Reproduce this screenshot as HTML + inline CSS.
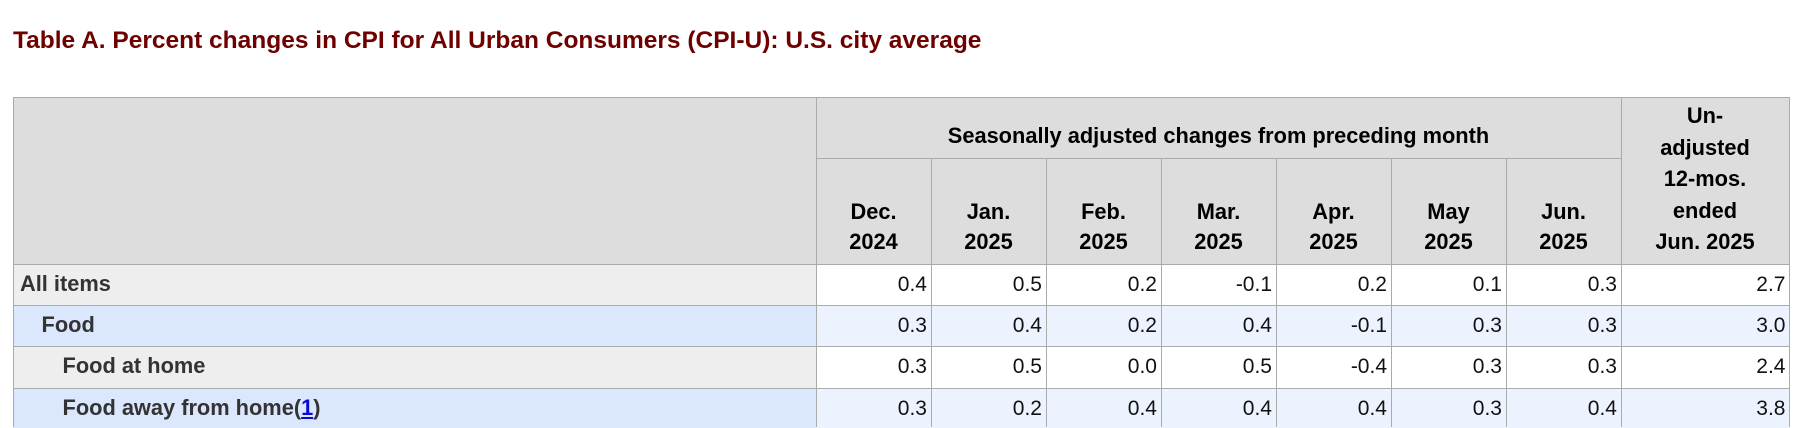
<!DOCTYPE html>
<html><head><meta charset="utf-8">
<style>
html,body{margin:0;padding:0;background:#fff;}
body{width:1804px;height:427px;overflow:hidden;position:relative;font-family:"Liberation Sans",Arial,sans-serif;}
.a{position:absolute;white-space:nowrap;line-height:1;}
.bg{position:absolute;}
.h{position:absolute;background:#ababab;height:1px;}
.v{position:absolute;background:#ababab;width:1px;}
.b{font-weight:bold;font-size:21.8px;color:#000;}
.lab{font-weight:bold;font-size:21.8px;color:#333;}
.d{font-size:21px;color:#111;text-align:right;}
.c{text-align:center;}
</style></head><body>
<div class="a" style="left:13px;top:29.3px;font-size:24.5px;font-weight:bold;color:#6e0000;">Table A. Percent changes in CPI for All Urban Consumers (CPI-U): U.S. city average</div>

<!-- backgrounds -->
<div class="bg" style="left:13px;top:97px;width:1777px;height:167px;background:#dddddd;"></div>
<div class="bg" style="left:13px;top:264px;width:803px;height:41px;background:#eeeeee;"></div>
<div class="bg" style="left:816px;top:264px;width:974px;height:41px;background:#ffffff;"></div>
<div class="bg" style="left:13px;top:305px;width:803px;height:41px;background:#dae7fc;"></div>
<div class="bg" style="left:816px;top:305px;width:974px;height:41px;background:#edf3fe;"></div>
<div class="bg" style="left:13px;top:346px;width:803px;height:42px;background:#eeeeee;"></div>
<div class="bg" style="left:816px;top:346px;width:974px;height:42px;background:#ffffff;"></div>
<div class="bg" style="left:13px;top:388px;width:803px;height:40px;background:#dae7fc;"></div>
<div class="bg" style="left:816px;top:388px;width:974px;height:40px;background:#edf3fe;"></div>

<!-- horizontal lines -->
<div class="h" style="left:13px;top:97px;width:1777px;"></div>
<div class="h" style="left:816px;top:158px;width:805px;"></div>
<div class="h" style="left:13px;top:264px;width:1777px;"></div>
<div class="h" style="left:13px;top:305px;width:1777px;"></div>
<div class="h" style="left:13px;top:346px;width:1777px;"></div>
<div class="h" style="left:13px;top:388px;width:1777px;"></div>
<!-- vertical lines -->
<div class="v" style="left:13px;top:97px;height:330px;"></div>
<div class="v" style="left:816px;top:97px;height:330px;"></div>
<div class="v" style="left:931px;top:158px;height:269px;"></div>
<div class="v" style="left:1046px;top:158px;height:269px;"></div>
<div class="v" style="left:1161px;top:158px;height:269px;"></div>
<div class="v" style="left:1276px;top:158px;height:269px;"></div>
<div class="v" style="left:1391px;top:158px;height:269px;"></div>
<div class="v" style="left:1506px;top:158px;height:269px;"></div>
<div class="v" style="left:1621px;top:97px;height:330px;"></div>
<div class="v" style="left:1789px;top:97px;height:330px;"></div>

<!-- header text -->
<div class="a b c" style="left:816px;width:805px;top:124.9px;">Seasonally adjusted changes from preceding month</div>

<div class="a b c" style="left:816px;width:115px;top:200.5px;">Dec.</div>
<div class="a b c" style="left:816px;width:115px;top:230.9px;">2024</div>
<div class="a b c" style="left:931px;width:115px;top:200.5px;">Jan.</div>
<div class="a b c" style="left:931px;width:115px;top:230.9px;">2025</div>
<div class="a b c" style="left:1046px;width:115px;top:200.5px;">Feb.</div>
<div class="a b c" style="left:1046px;width:115px;top:230.9px;">2025</div>
<div class="a b c" style="left:1161px;width:115px;top:200.5px;">Mar.</div>
<div class="a b c" style="left:1161px;width:115px;top:230.9px;">2025</div>
<div class="a b c" style="left:1276px;width:115px;top:200.5px;">Apr.</div>
<div class="a b c" style="left:1276px;width:115px;top:230.9px;">2025</div>
<div class="a b c" style="left:1391px;width:115px;top:200.5px;">May</div>
<div class="a b c" style="left:1391px;width:115px;top:230.9px;">2025</div>
<div class="a b c" style="left:1506px;width:115px;top:200.5px;">Jun.</div>
<div class="a b c" style="left:1506px;width:115px;top:230.9px;">2025</div>

<div class="a b c" style="left:1621px;width:168px;top:104.9px;">Un-</div>
<div class="a b c" style="left:1621px;width:168px;top:136.5px;">adjusted</div>
<div class="a b c" style="left:1621px;width:168px;top:168.2px;">12-mos.</div>
<div class="a b c" style="left:1621px;width:168px;top:199.9px;">ended</div>
<div class="a b c" style="left:1621px;width:168px;top:230.9px;">Jun. 2025</div>

<!-- row labels -->
<div class="a lab" style="left:20px;top:273.2px;">All items</div>
<div class="a lab" style="left:41.5px;top:314.1px;">Food</div>
<div class="a lab" style="left:62.5px;top:355.1px;">Food at home</div>
<div class="a lab" style="left:62.5px;top:396.9px;">Food away from home(<span style="color:#0b0bd0;text-decoration:underline;">1</span>)</div>

<!-- row 1 -->
<div class="a d" style="right:877px;top:274px;">0.4</div>
<div class="a d" style="right:762px;top:274px;">0.5</div>
<div class="a d" style="right:647px;top:274px;">0.2</div>
<div class="a d" style="right:532px;top:274px;">-0.1</div>
<div class="a d" style="right:417px;top:274px;">0.2</div>
<div class="a d" style="right:302px;top:274px;">0.1</div>
<div class="a d" style="right:187px;top:274px;">0.3</div>
<div class="a d" style="right:18.5px;top:274px;">2.7</div>
<!-- row 2 -->
<div class="a d" style="right:877px;top:314.7px;">0.3</div>
<div class="a d" style="right:762px;top:314.7px;">0.4</div>
<div class="a d" style="right:647px;top:314.7px;">0.2</div>
<div class="a d" style="right:532px;top:314.7px;">0.4</div>
<div class="a d" style="right:417px;top:314.7px;">-0.1</div>
<div class="a d" style="right:302px;top:314.7px;">0.3</div>
<div class="a d" style="right:187px;top:314.7px;">0.3</div>
<div class="a d" style="right:18.5px;top:314.7px;">3.0</div>
<!-- row 3 -->
<div class="a d" style="right:877px;top:355.7px;">0.3</div>
<div class="a d" style="right:762px;top:355.7px;">0.5</div>
<div class="a d" style="right:647px;top:355.7px;">0.0</div>
<div class="a d" style="right:532px;top:355.7px;">0.5</div>
<div class="a d" style="right:417px;top:355.7px;">-0.4</div>
<div class="a d" style="right:302px;top:355.7px;">0.3</div>
<div class="a d" style="right:187px;top:355.7px;">0.3</div>
<div class="a d" style="right:18.5px;top:355.7px;">2.4</div>
<!-- row 4 -->
<div class="a d" style="right:877px;top:397.5px;">0.3</div>
<div class="a d" style="right:762px;top:397.5px;">0.2</div>
<div class="a d" style="right:647px;top:397.5px;">0.4</div>
<div class="a d" style="right:532px;top:397.5px;">0.4</div>
<div class="a d" style="right:417px;top:397.5px;">0.4</div>
<div class="a d" style="right:302px;top:397.5px;">0.3</div>
<div class="a d" style="right:187px;top:397.5px;">0.4</div>
<div class="a d" style="right:18.5px;top:397.5px;">3.8</div>
</body></html>
